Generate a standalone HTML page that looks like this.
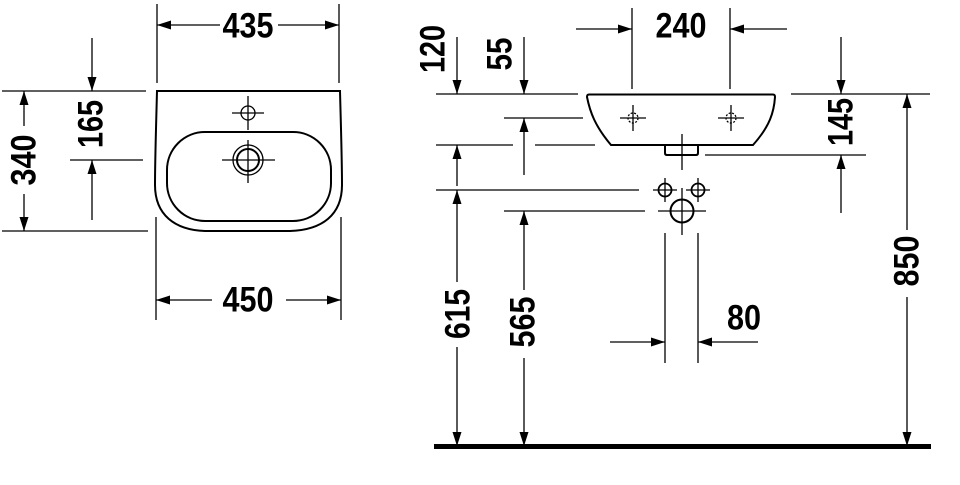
<!DOCTYPE html>
<html><head><meta charset="utf-8"><style>
html,body{margin:0;padding:0;background:#fff;}
svg{display:block;}
text{font-family:"Liberation Sans Narrow","Liberation Sans",sans-serif;font-weight:bold;font-size:35px;fill:#000;}
</style></head><body>
<svg width="960" height="485" viewBox="0 0 960 485" xmlns="http://www.w3.org/2000/svg">
<defs>
<marker id="a" viewBox="0 0 14 9" refX="14" refY="4.5" markerWidth="14" markerHeight="9" markerUnits="userSpaceOnUse" orient="auto">
<path d="M0,0 L14,4.5 L0,9 Z" fill="#000"/></marker>
</defs>
<g stroke="#000" stroke-width="1.3" fill="none">
<line x1="157" y1="4" x2="157" y2="83"/><line x1="339" y1="4" x2="339" y2="83"/>
<line x1="220" y1="25" x2="157" y2="25" marker-end="url(#a)"/>
<line x1="278" y1="25" x2="339" y2="25" marker-end="url(#a)"/>
<path d="M157,91 L340,91 C341,130 342,160 342,185 C342,215 322,230 290,231 L205,231 C175,230 155,215 155,185 C155,160 156,130 157,91 Z" stroke-width="2"/>
<rect x="167" y="132" width="164" height="89" rx="38" ry="38" stroke-width="2"/>
<circle cx="248" cy="113" r="7"/>
<line x1="232" y1="113" x2="264" y2="113"/><line x1="248" y1="96" x2="248" y2="130"/>
<circle cx="248" cy="160" r="15"/><circle cx="248" cy="160" r="11" stroke-width="2"/>
<line x1="222" y1="160" x2="275" y2="160"/><line x1="248" y1="140" x2="248" y2="183"/>
<line x1="2" y1="91" x2="146" y2="91"/><line x1="2" y1="231" x2="148" y2="231"/>
<line x1="24" y1="126" x2="24" y2="91" marker-end="url(#a)"/>
<line x1="24" y1="194" x2="24" y2="231" marker-end="url(#a)"/>
<line x1="92" y1="38" x2="92" y2="91" marker-end="url(#a)"/>
<line x1="70" y1="160" x2="143" y2="160"/>
<line x1="92" y1="220" x2="92" y2="160" marker-end="url(#a)"/>
<line x1="156" y1="217" x2="156" y2="320"/><line x1="341" y1="217" x2="341" y2="320"/>
<line x1="212" y1="300" x2="156" y2="300" marker-end="url(#a)"/>
<line x1="286" y1="300" x2="341" y2="300" marker-end="url(#a)"/>

<line x1="632" y1="8" x2="632" y2="89"/><line x1="730" y1="8" x2="730" y2="89"/>
<line x1="576" y1="29" x2="632" y2="29" marker-end="url(#a)"/>
<line x1="787" y1="29" x2="730" y2="29" marker-end="url(#a)"/>
<line x1="436" y1="94" x2="578" y2="94"/><line x1="791" y1="94" x2="930" y2="94"/>
<path d="M589,94.5 L773,94.5 Q775,94.5 775,97 C774,112 770,126 753,145 L611,145 C595,126 590,112 587,97 Q587,94.5 589,94.5 Z" stroke-width="2"/>
<path d="M665,145 L665,153 Q665,155 667,155 L696,155 Q698,155 698,153 L698,145" stroke-width="2"/>
<line x1="682" y1="134" x2="682" y2="170"/>
<circle cx="633" cy="118" r="5" stroke-dasharray="2 1.5"/>
<line x1="620" y1="118" x2="646" y2="118"/><line x1="633" y1="105" x2="633" y2="131"/>
<circle cx="731" cy="118" r="5" stroke-dasharray="2 1.5"/>
<line x1="718" y1="118" x2="744" y2="118"/><line x1="731" y1="105" x2="731" y2="131"/>
<circle cx="665" cy="190" r="6.5" stroke-width="1.8"/>
<line x1="653" y1="190" x2="677" y2="190"/><line x1="665" y1="178" x2="665" y2="202"/>
<circle cx="698" cy="190" r="6.5" stroke-width="1.8"/>
<line x1="686" y1="190" x2="710" y2="190"/><line x1="698" y1="178" x2="698" y2="202"/>
<circle cx="682" cy="211" r="11.5" stroke-width="2"/>
<line x1="658" y1="211" x2="706" y2="211"/><line x1="682" y1="188" x2="682" y2="235"/>
<line x1="665" y1="233" x2="665" y2="363"/><line x1="698" y1="233" x2="698" y2="363"/>
<line x1="610" y1="342" x2="665" y2="342" marker-end="url(#a)"/>
<line x1="758" y1="342" x2="698" y2="342" marker-end="url(#a)"/>
<line x1="457" y1="37" x2="457" y2="94" marker-end="url(#a)"/>
<line x1="436" y1="145" x2="513" y2="145"/><line x1="535" y1="145" x2="595" y2="145"/>
<line x1="457" y1="186" x2="457" y2="145" marker-end="url(#a)"/>
<line x1="436" y1="190" x2="639" y2="190"/>
<line x1="457" y1="282" x2="457" y2="190" marker-end="url(#a)"/>
<line x1="457" y1="347" x2="457" y2="446" marker-end="url(#a)"/>
<line x1="524" y1="37" x2="524" y2="94" marker-end="url(#a)"/>
<line x1="504" y1="118" x2="583" y2="118"/>
<line x1="524" y1="175" x2="524" y2="118" marker-end="url(#a)"/>
<line x1="504" y1="211" x2="645" y2="211"/>
<line x1="524" y1="290" x2="524" y2="211" marker-end="url(#a)"/>
<line x1="524" y1="358" x2="524" y2="446" marker-end="url(#a)"/>
<line x1="841" y1="37" x2="841" y2="94" marker-end="url(#a)"/>
<line x1="705" y1="155" x2="866" y2="155"/>
<line x1="841" y1="213" x2="841" y2="155" marker-end="url(#a)"/>
<line x1="907" y1="230" x2="907" y2="94" marker-end="url(#a)"/>
<line x1="907" y1="297" x2="907" y2="446" marker-end="url(#a)"/>
</g>
<rect x="434" y="444" width="497" height="5" fill="#000"/>

<g text-anchor="middle" dominant-baseline="central" lengthAdjust="spacingAndGlyphs">
<text x="248" y="26" textLength="51" lengthAdjust="spacingAndGlyphs">435</text>
<text x="248" y="300" textLength="51" lengthAdjust="spacingAndGlyphs">450</text>
<text transform="translate(24,160) rotate(-90)" textLength="51" lengthAdjust="spacingAndGlyphs">340</text>
<text transform="translate(91,124) rotate(-90)" textLength="48" lengthAdjust="spacingAndGlyphs">165</text>
<text x="681" y="26" textLength="51" lengthAdjust="spacingAndGlyphs">240</text>
<text x="744" y="318" textLength="34" lengthAdjust="spacingAndGlyphs">80</text>
<text transform="translate(433,49) rotate(-90)" textLength="48" lengthAdjust="spacingAndGlyphs">120</text>
<text transform="translate(500,54) rotate(-90)" textLength="33" lengthAdjust="spacingAndGlyphs">55</text>
<text transform="translate(841,122) rotate(-90)" textLength="48" lengthAdjust="spacingAndGlyphs">145</text>
<text transform="translate(458,314) rotate(-90)" textLength="50" lengthAdjust="spacingAndGlyphs">615</text>
<text transform="translate(523,322) rotate(-90)" textLength="51" lengthAdjust="spacingAndGlyphs">565</text>
<text transform="translate(907,261) rotate(-90)" textLength="51" lengthAdjust="spacingAndGlyphs">850</text>
</g>
</svg>
</body></html>
